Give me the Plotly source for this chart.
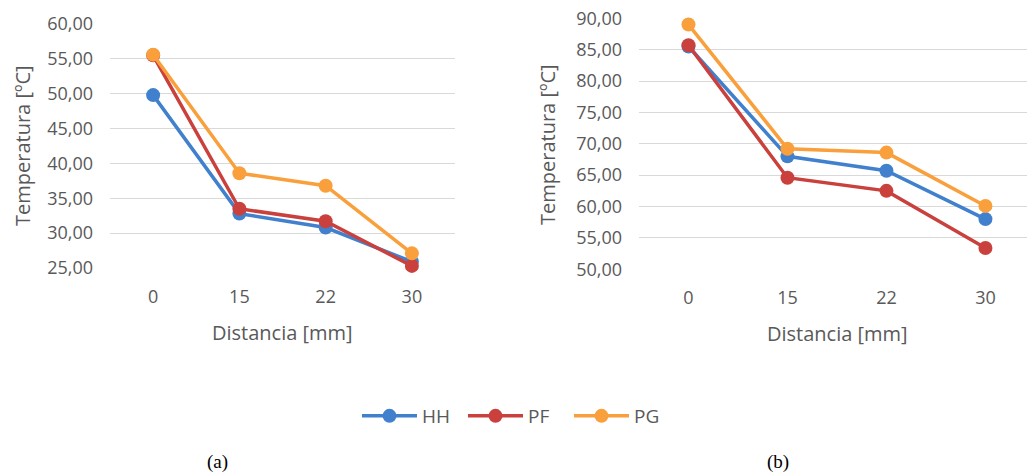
import plotly.graph_objects as go

categories = ["0", "15", "22", "30"]
series_names = ["HH", "PF", "PG"]

# Chart (a)
a_hh = [49.8, 32.8, 30.8, 25.9]
a_pf = [55.5, 33.5, 31.7, 25.3]
a_pg = [55.6, 38.6, 36.8, 27.1]

# Chart (b)
b_hh = [85.5, 68.0, 65.7, 58.0]
b_pf = [85.7, 64.6, 62.5, 53.4]
b_pg = [89.0, 69.2, 68.6, 60.1]

a_ticks = [25, 30, 35, 40, 45, 50, 55, 60]
b_ticks = [50, 55, 60, 65, 70, 75, 80, 85, 90]

colors = ["#4180CD", "#C9403D", "#F9A03C"]
W, H = 1027, 474
FONT = "'Open Sans', sans-serif"
GRAY = "#595959"

fig = go.Figure()
for name, vals, c in zip(series_names, [a_hh, a_pf, a_pg], colors):
    fig.add_trace(go.Scatter(x=categories, y=vals, name=name, mode="lines+markers",
                             line=dict(color=c, width=3.5), marker=dict(color=c, size=14),
                             cliponaxis=False, xaxis="x", yaxis="y", showlegend=True))
for name, vals, c in zip(series_names, [b_hh, b_pf, b_pg], colors):
    fig.add_trace(go.Scatter(x=categories, y=vals, name=name, mode="lines+markers",
                             line=dict(color=c, width=3.5), marker=dict(color=c, size=14),
                             cliponaxis=False, xaxis="x2", yaxis="y2", showlegend=False))

def fmt(v):
    return f"{v:.2f}".replace(".", ",")

common_x = dict(type="category", showgrid=False, showline=False, zeroline=False,
                tickfont=dict(family=FONT, size=18, color=GRAY), ticks="",
                ticklabelstandoff=16, fixedrange=True, automargin=False)
common_y = dict(showgrid=True, gridcolor="#D9D9D9", gridwidth=1, zeroline=False,
                showline=False, tickfont=dict(family=FONT, size=18, color=GRAY),
                ticks="", ticklabelstandoff=16, automargin=False)

fig.update_layout(
    width=W, height=H,
    margin=dict(l=0, r=0, t=0, b=0, autoexpand=False),
    paper_bgcolor="white", plot_bgcolor="white",
    xaxis=dict(common_x, domain=[110 / W, 455 / W], range=[-0.5, 3.5], anchor="y"),
    yaxis=dict(common_y, domain=[1 - 268 / H, 1 - 24 / H], range=[25, 60],
               tickvals=a_ticks, ticktext=[fmt(v) for v in a_ticks], anchor="x"),
    xaxis2=dict(common_x, domain=[639 / W, 1.0], range=[-0.5, 3.42], anchor="y2"),
    yaxis2=dict(common_y, domain=[1 - 269.3 / H, 1 - 18.3 / H], range=[50, 90],
                tickvals=b_ticks, ticktext=[fmt(v) for v in b_ticks], anchor="x2"),
    legend=dict(orientation="h", x=516 / W, xanchor="center", y=1 - 416 / H, yanchor="middle",
                font=dict(family=FONT, size=19, color=GRAY), itemwidth=55,
                entrywidth=36, entrywidthmode="pixels",
                bgcolor="rgba(0,0,0,0)"),
)

ann = [
    dict(text="Temperatura [ºC]", x=22 / W, y=1 - 146 / H, textangle=-90, size=20, fam=FONT, col=GRAY),
    dict(text="Temperatura [ºC]", x=548 / W, y=1 - 145 / H, textangle=-90, size=20, fam=FONT, col=GRAY),
    dict(text="Distancia [mm]", x=282 / W, y=1 - 332 / H, textangle=0, size=20, fam=FONT, col=GRAY),
    dict(text="Distancia [mm]", x=837 / W, y=1 - 333 / H, textangle=0, size=20, fam=FONT, col=GRAY),
    dict(text="(a)", x=217 / W, y=1 - 462 / H, textangle=0, size=19, fam="Liberation Serif, serif", col="#000000"),
    dict(text="(b)", x=778 / W, y=1 - 462 / H, textangle=0, size=19, fam="Liberation Serif, serif", col="#000000"),
]
for a in ann:
    fig.add_annotation(text=a["text"], x=a["x"], y=a["y"], xref="paper", yref="paper",
                       xanchor="center", yanchor="middle", showarrow=False, textangle=a["textangle"],
                       font=dict(family=a["fam"], size=a["size"], color=a["col"]))

fig.write_html("out.html", config={"displayModeBar": False},
               post_script="document.body.style.margin='0';document.body.style.overflow='hidden';")
